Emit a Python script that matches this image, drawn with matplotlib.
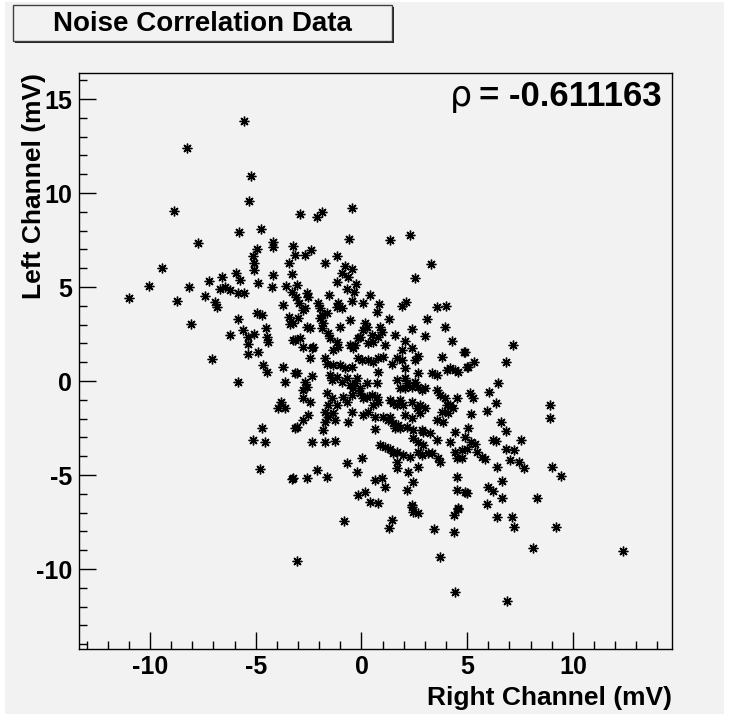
import numpy as np
import matplotlib
matplotlib.use("Agg")
import matplotlib.pyplot as plt
from matplotlib.patches import Rectangle

# (right channel mV, left channel mV), grouped by area
upper_left = [
    (-5.54, 13.83), (-8.27, 12.38), (-5.22, 10.91), (-5.33, 9.57), (-8.87, 9.04),
    (-5.79, 7.91), (-4.75, 8.10), (-7.71, 7.32), (-4.17, 7.41), (-4.17, 7.15),
    (-4.93, 7.00), (-5.11, 6.66), (-5.07, 6.26), (-5.07, 5.90), (-3.22, 7.18),
    (-3.43, 6.26), (-9.42, 6.02), (-10.03, 5.07), (-11.01, 4.43), (-8.16, 5.00),
    (-8.72, 4.27), (-7.19, 5.34), (-6.61, 5.55), (-5.95, 5.73), (-5.73, 5.37),
    (-4.91, 5.19), (-4.17, 5.64), (-4.25, 5.02), (-3.55, 5.05), (-3.30, 5.68),
    (-7.40, 4.53), (-6.93, 4.22), (-6.85, 3.95), (-6.69, 4.87), (-6.45, 5.02),
    (-6.22, 4.84), (-5.82, 4.70), (-5.56, 4.70), (-3.70, 4.05), (-3.30, 4.76),
]
upper_mid = [
    (-2.91, 8.86), (-2.12, 8.70), (-1.88, 8.97), (-0.43, 9.18), (-0.61, 7.55),
    (1.35, 7.50), (2.31, 7.76), (3.30, 6.23), (2.53, 5.47), (-3.14, 6.70),
    (-2.67, 6.70), (-2.40, 6.97), (-1.73, 6.26), (-1.17, 6.65), (-0.78, 6.13),
    (-0.43, 5.94), (-0.94, 5.73), (-0.62, 5.55), (-1.17, 5.29), (-0.28, 5.16),
    (-0.67, 4.89), (-0.34, 4.71), (-3.07, 5.11), (-2.59, 4.66), (-3.10, 4.45),
    (-2.51, 4.48), (-2.94, 4.13), (-2.67, 3.87), (-2.04, 4.16), (-1.52, 4.58),
    (-1.10, 4.13), (-0.94, 3.87), (-0.43, 4.27), (0.06, 4.16), (0.40, 4.58),
    (0.84, 4.10), (1.90, 3.99), (2.09, 4.22), (3.59, 3.92), (4.00, 3.99),
]
mid_left = [
    (-8.06, 3.01), (-5.86, 3.30), (-4.96, 3.60), (-4.72, 3.51), (-3.43, 3.42),
    (-3.38, 3.01), (-6.22, 2.45), (-5.59, 2.71), (-5.35, 2.35), (-5.07, 2.48),
    (-4.53, 2.84), (-4.48, 2.35), (-4.41, 2.09), (-5.35, 1.95), (-5.35, 1.42),
    (-4.88, 1.56), (-3.22, 2.18), (-7.05, 1.17), (-4.64, 0.85), (-4.48, 0.46),
    (-3.70, 0.77), (-3.14, 0.41), (-5.82, -0.04), (-3.62, -0.07), (-3.81, -1.14),
    (-3.93, -1.42), (-3.62, -1.46), (-4.69, -2.48), (-3.14, -2.48), (-5.11, -3.15),
    (-4.56, -3.23), (-4.78, -4.70), (-3.30, -5.22),
]
mid_right = [
    (4.89, 1.56), (7.15, 1.92), (5.32, 0.99), (5.02, 0.72), (6.82, 0.99),
    (6.47, -0.09), (6.03, -0.57), (5.13, -0.62), (5.29, -0.89), (6.34, -1.19),
    (5.92, -1.60), (5.16, -1.78), (8.93, -1.30), (8.93, -1.96), (6.58, -2.17),
    (6.82, -2.66), (5.02, -2.52), (5.16, -3.23), (5.37, -3.37), (6.23, -3.14),
    (6.34, -3.19), (7.54, -3.14), (6.82, -3.59), (7.23, -3.67), (4.97, -3.62),
    (5.45, -3.76), (5.71, -4.03), (5.84, -4.15), (7.02, -4.20), (7.46, -4.30),
    (7.70, -4.64), (6.42, -4.56), (9.02, -4.56), (9.45, -5.04), (6.63, -5.30),
    (5.99, -5.62), (6.23, -5.85), (4.97, -5.94), (6.66, -6.21), (8.31, -6.21),
    (5.95, -6.54),
]
lower = [
    (-0.81, -7.45), (-3.03, -9.58), (1.43, -7.40), (1.28, -7.84), (2.42, -6.98),
    (2.69, -7.04), (2.37, -6.69), (4.58, -6.81), (4.37, -7.13), (3.43, -7.87),
    (4.37, -8.01), (3.71, -9.34), (4.44, -11.24), (6.42, -7.25), (7.13, -7.22),
    (7.19, -7.79), (9.18, -7.79), (8.09, -8.90), (12.35, -9.06), (6.86, -11.70),
]
core = [
    (-2.75, 3.77), (-1.96, 3.87), (-1.65, 3.60), (-1.17, 3.95), (0.75, 3.69),
    (-2.99, 3.34), (-3.22, 3.06), (-2.59, 2.89), (-2.43, 2.80), (-1.96, 3.34),
    (-1.88, 3.51), (-1.80, 3.06), (-0.54, 3.24), (0.17, 3.06), (0.24, 2.89),
    (0.09, 2.71), (0.87, 2.89), (0.95, 2.63), (1.32, 3.30), (3.11, 3.30),
    (3.95, 2.89), (2.37, 2.77),
    (-3.14, 2.18), (-2.91, 2.27), (-2.75, 1.82), (-2.36, 1.74), (-2.28, 1.82),
    (-1.88, 2.80), (-1.57, 2.53), (-1.49, 2.27), (-1.17, 2.09), (-1.10, 1.82),
    (-1.33, 1.64), (-1.02, 2.89), (-0.54, 1.92), (-0.31, 1.92), (-0.15, 2.27),
    (-0.39, 1.74), (-0.07, 2.35), (0.32, 2.00), (0.56, 2.09), (0.48, 2.45),
    (0.80, 2.35), (1.11, 1.92), (1.58, 2.45), (2.06, 2.13), (1.90, 1.64),
    (2.37, 1.74), (3.00, 2.41), (4.26, 2.13),
    (-2.43, 1.24), (-1.73, 1.21), (-1.65, 0.93), (-1.33, 0.85), (-1.02, 0.85),
    (-0.78, 0.67), (-0.46, 0.77), (-0.15, 1.21), (0.01, 1.12), (0.32, 1.12),
    (0.56, 1.03), (0.80, 1.21), (1.03, 1.30), (1.43, 0.93), (1.66, 1.21),
    (1.90, 1.12), (2.06, 0.67), (2.65, 1.35), (2.53, 1.12), (3.79, 1.30),
    (4.85, 1.53), (4.18, 0.67), (4.42, 0.59), (4.03, 0.59), (4.58, 0.50),
    (4.97, 0.77), (3.55, 0.32), (3.32, 0.41), (2.69, 0.41),
    (-3.07, 0.41), (-2.36, 0.28), (-2.67, -0.04), (-2.59, -0.30), (-2.75, -0.48),
    (-1.49, 0.32), (-1.41, 0.06), (-1.17, 0.23), (-0.94, -0.04), (-0.70, 0.14),
    (-0.54, -0.21), (-0.31, -0.12), (-0.23, 0.14), (-0.39, -0.39), (-0.07, -0.39),
    (0.24, -0.12), (0.72, -0.12), (0.80, 0.50), (1.66, 0.06), (2.06, 0.14),
    (2.14, -0.12), (2.37, -0.30), (2.53, -0.04), (2.69, -0.30), (2.84, -0.48),
    (2.06, -0.39), (1.82, -0.39), (3.00, -0.39),
    (-2.75, -0.92), (-2.43, -1.10), (-1.65, -0.65), (-1.41, -0.92), (-1.57, -1.28),
    (-1.17, -1.28), (-0.86, -0.83), (-0.70, -1.10), (-0.46, -0.75), (-0.07, -0.65),
    (0.09, -0.92), (0.24, -0.83), (0.48, -0.75), (0.72, -0.83), (0.80, -1.10),
    (0.56, -1.28), (1.35, -1.01), (1.51, -1.19), (1.66, -1.28), (1.82, -1.01),
    (1.98, -1.28), (2.37, -1.10), (2.61, -1.46), (2.77, -1.28), (3.55, -0.48),
    (3.71, -0.75), (3.95, -0.92), (4.03, -1.28), (4.34, -1.46), (4.50, -0.92),
    (3.79, -1.63), (4.10, -1.72), (4.18, -1.28),
    (-2.51, -1.81), (-2.75, -2.07), (-3.07, -2.43), (-1.73, -1.63), (-1.33, -1.72),
    (-1.57, -1.90), (-1.25, -2.07), (-1.73, -2.17), (-0.62, -2.17), (-0.46, -1.63),
    (0.09, -1.81), (0.32, -1.63), (0.64, -1.90), (1.03, -1.90), (1.27, -2.07),
    (1.35, -1.90), (1.51, -2.25), (1.74, -2.34), (2.06, -1.81), (2.37, -1.99),
    (2.77, -1.72), (3.00, -1.46), (3.55, -2.07), (3.87, -2.17),
    (-1.80, -2.61), (-2.36, -3.23), (-1.73, -3.23), (-1.25, -3.19), (0.64, -2.56),
    (1.58, -2.52), (1.82, -2.52), (2.14, -2.43), (2.45, -2.61), (2.84, -2.61),
    (2.92, -2.70), (2.45, -3.05), (2.69, -3.23), (2.92, -3.41), (3.24, -2.78),
    (3.55, -3.14), (3.32, -3.85), (4.18, -3.23), (4.42, -2.70), (4.89, -2.96),
    (0.87, -3.41), (1.11, -3.49), (1.35, -3.59), (1.51, -3.85), (1.66, -3.76),
    (1.98, -3.93), (2.29, -4.03), (2.69, -3.76), (2.84, -3.93), (3.16, -3.85),
    (3.63, -4.11), (3.71, -4.30), (4.42, -3.76), (4.74, -3.67), (4.50, -4.11),
    (4.74, -4.11), (1.66, -4.30), (1.66, -4.64), (2.21, -4.82), (2.69, -4.56),
    (0.01, -4.11), (-0.70, -4.38), (-0.23, -4.82),
    (-2.12, -4.74), (-1.65, -5.09), (-2.59, -5.17), (-3.25, -5.17), (0.64, -5.27),
    (0.95, -5.17), (1.11, -5.62), (2.14, -5.80), (2.45, -5.35), (4.50, -5.09),
    (0.17, -5.88), (-0.15, -6.06), (0.40, -6.42), (0.80, -6.51), (2.37, -6.59),
    (4.50, -5.80), (4.89, -5.88), (4.58, -6.74),
]

rho_text = "= -0.611163"
title = "Noise Correlation Data"
x_title = "Right Channel (mV)"
y_title = "Left Channel (mV)"

pts = np.array(upper_left + upper_mid + mid_left + mid_right + lower + core)
right_mv = pts[:, 0]
left_mv = pts[:, 1]

# ROOT style range: data span plus 10% each side
xlo, xhi = right_mv.min(), right_mv.max()
ylo, yhi = left_mv.min(), left_mv.max()
dx = 0.1 * (xhi - xlo)
dy = 0.1 * (yhi - ylo)

bg = "#f2f2f2"
plt.rcParams["font.family"] = ["Liberation Sans", "DejaVu Sans"]
plt.rcParams["axes.unicode_minus"] = False

W, H = 736, 719
fig = plt.figure(figsize=(W / 100, H / 100), dpi=100, facecolor="white")
# grey canvas with a thin white rim
fig.patches.append(Rectangle((5 / W, 5 / H), 719 / W, 712 / H, transform=fig.transFigure,
                             facecolor=bg, edgecolor="none", zorder=-10))

ax = fig.add_axes([79.3 / W, 1 - 649 / H, 592.7 / W, 576 / H])
ax.set_facecolor(bg)
ax.plot(right_mv, left_mv, linestyle="none", marker=(8, 2, 0), ms=7, mew=1.0, color="black")
ax.set_xlim(xlo - dx, xhi + dx)
ax.set_ylim(ylo - dy, yhi + dy)

for s in ax.spines.values():
    s.set_linewidth(1.0)
ax.xaxis.set_major_locator(plt.MultipleLocator(5))
ax.xaxis.set_minor_locator(plt.MultipleLocator(1))
ax.yaxis.set_major_locator(plt.MultipleLocator(5))
ax.yaxis.set_minor_locator(plt.MultipleLocator(1))
ax.tick_params(which="both", direction="in", top=False, right=False, width=1.0, color="black")
ax.tick_params(which="major", length=12.2)
ax.tick_params(which="minor", length=6.1)
ax.tick_params(axis="x", pad=4, labelsize=18)
ax.tick_params(axis="y", pad=5, labelsize=18)
for lab in ax.get_xticklabels() + ax.get_yticklabels():
    lab.set_fontweight("bold")

# axis titles, right/top aligned like ROOT
fig.text(672 / W, 1 - 705 / H, x_title, ha="right", va="baseline", fontsize=19,
         fontweight="bold")
fig.text(41 / W, 1 - 73 / H, y_title, ha="right", va="baseline", rotation=90,
         rotation_mode="anchor", fontsize=19, fontweight="bold")

t = ax.text((662 - 79.3) / 592.7, (649 - 106) / 576, rho_text, transform=ax.transAxes,
            ha="right", va="baseline", fontsize=25, fontweight="bold")
ax.annotate("\u03c1", xy=(0, 0), xycoords=t, xytext=(-5, 0), textcoords="offset points",
            ha="right", va="bottom", fontsize=25, family=["DejaVu Sans"])

# title box with shadow
fig.patches.append(Rectangle((15 / W, 1 - 43 / H), 379 / W, 36 / H, transform=fig.transFigure,
                             facecolor="#202020", edgecolor="none", zorder=1))
fig.patches.append(Rectangle((13 / W, 1 - 41 / H), 379 / W, 36 / H, transform=fig.transFigure,
                             facecolor=bg, edgecolor="#404040", linewidth=1.0, zorder=2))
fig.text(202 / W, 1 - 24 / H, title, ha="center", va="center", fontsize=20,
         fontweight="bold", zorder=3)

fig.savefig("out.png", dpi=100, facecolor="white")
